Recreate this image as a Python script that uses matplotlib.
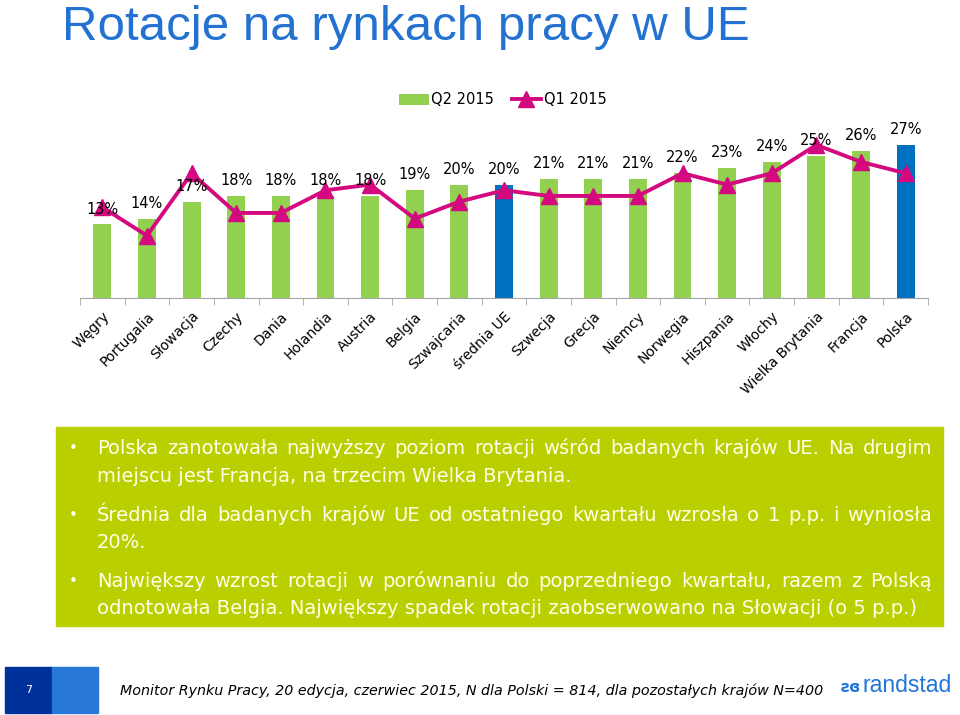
import matplotlib
matplotlib.use("Agg")
from matplotlib import pyplot as plt
from matplotlib.patches import Rectangle
import numpy as np

countries = ["Węgry", "Portugalia", "Słowacja", "Czechy", "Dania", "Holandia", "Austria",
             "Belgia", "Szwajcaria", "średnia UE", "Szwecja", "Grecja", "Niemcy", "Norwegia",
             "Hiszpania", "Włochy", "Wielka Brytania", "Francja", "Polska"]
q2_2015 = [13, 14, 17, 18, 18, 18, 18, 19, 20, 20, 21, 21, 21, 22, 23, 24, 25, 26, 27]
q1_2015 = [16, 11, 22, 15, 15, 19, 20, 14, 17, 19, 18, 18, 18, 22, 20, 22, 27, 24, 22]
labels = ["13%", "14%", "17%", "18%", "18%", "18%", "18%", "19%", "20%", "20%", "21%", "21%",
          "21%", "22%", "23%", "24%", "25%", "26%", "27%"]
highlight = ["średnia UE", "Polska"]

bullets = [
    ["Polska zanotowała najwyższy poziom rotacji wśród badanych krajów UE. Na drugim",
     "miejscu jest Francja, na trzecim Wielka Brytania."],
    ["Średnia dla badanych krajów UE od ostatniego kwartału wzrosła o 1 p.p. i wyniosła",
     "20%."],
    ["Największy wzrost rotacji w porównaniu do poprzedniego kwartału, razem z Polską",
     "odnotowała Belgia. Największy spadek rotacji zaobserwowano na Słowacji (o 5 p.p.)"],
]

GREEN = "#92D050"
BLUE = "#0070C0"
PINK = "#D4087F"
BOX = "#B9CF00"
TXT = "#FFFFE8"

W, H = 960, 715
fig = plt.figure(figsize=(9.6, 7.15), dpi=100)


def fx(px):
    return px / W


def fy(py):
    return 1 - py / H


fig.text(fx(62), fy(27), "Rotacje na rynkach pracy w UE", fontsize=35.5,
         family="Liberation Sans", color="#2371D1", va="center", ha="left")

ax = fig.add_axes([fx(80), fy(298), fx(928) - fx(80), (298 - 110) / H])
x = np.arange(len(countries))
colors = [BLUE if c in highlight else GREEN for c in countries]
bars = ax.bar(x, q2_2015, width=0.4, color=colors, label="Q2 2015", zorder=2)
line, = ax.plot(x, q1_2015, color=PINK, lw=2.8, marker="^", markersize=11, label="Q1 2015", zorder=3)
for xi, v, t in zip(x, q2_2015, labels):
    ax.annotate(t, (xi, v), xytext=(0, 11), textcoords="offset points", ha="center", va="center",
                fontsize=10.5, color="black", zorder=4)

ax.set_xlim(-0.5, len(countries) - 0.5)
ax.set_ylim(0, 188 / 5.67)
ax.set_yticks([])
for s in ["top", "left", "right"]:
    ax.spines[s].set_visible(False)
ax.spines["bottom"].set_color("#A6A6A6")
ax.set_xticks(x)
ax.set_xticklabels(countries, rotation=45, ha="right", va="top", rotation_mode="anchor", fontsize=10)
ax.tick_params(axis="x", which="major", length=0, pad=8)
ax.set_xticks(np.arange(-0.5, len(countries)), minor=True)
ax.tick_params(axis="x", which="minor", length=5, color="#A6A6A6")

fig.legend([bars, line], ["Q2 2015", "Q1 2015"], loc="center", bbox_to_anchor=(fx(503), fy(100)),
           ncol=2, frameon=False, fontsize=10.5, handlelength=2.0, columnspacing=1.2,
           handletextpad=0.2)

# text box
fig.patches.append(Rectangle((fx(56), fy(626)), fx(943) - fx(56), (626 - 427) / H,
                             transform=fig.transFigure, color=BOX, zorder=0))

renderer = fig.canvas.get_renderer()
line_y = [[448, 476], [515, 542], [581, 608]]
x0, x1 = 97, 932
for para, ys in zip(bullets, line_y):
    fig.text(fx(73), fy(ys[0]), "•", color=TXT, fontsize=11, va="center", ha="center")
    for i, (ln, yy) in enumerate(zip(para, ys)):
        base = fy(yy + 6)
        if i == len(para) - 1:
            fig.text(fx(x0), base, ln, color=TXT, fontsize=14, va="baseline", ha="left")
            continue
        words = ln.split(" ")
        texts = [fig.text(0, base, w, color=TXT, fontsize=14, va="baseline", ha="left")
                 for w in words]
        widths = [t.get_window_extent(renderer).width for t in texts]
        gap = (x1 - x0 - sum(widths)) / (len(words) - 1)
        pos = x0
        for t, w in zip(texts, widths):
            t.set_x(fx(pos))
            pos += w + gap

# footer
fig.patches.append(Rectangle((fx(5), fy(713)), fx(47), 46 / H, transform=fig.transFigure,
                             color="#00309A", zorder=0))
fig.patches.append(Rectangle((fx(52), fy(713)), fx(46), 46 / H, transform=fig.transFigure,
                             color="#2878D8", zorder=0))
fig.text(fx(29), fy(690), "7", color="white", fontsize=8, ha="center", va="center")
fig.text(fx(120), fy(691), "Monitor Rynku Pracy, 20 edycja, czerwiec 2015, N dla Polski = 814, "
         "dla pozostałych krajów N=400", style="italic", fontsize=10.3, color="black",
         va="center", ha="left")
fig.text(fx(862), fy(685), "randstad", color="#2175D9", fontsize=16.5, family="Liberation Sans",
         va="center", ha="left")
fig.text(fx(851), fy(688), "ƨɞ", color="#2175D9", fontsize=11, va="center", ha="center",
         fontweight="bold")

fig.savefig("out.png", dpi=100)
